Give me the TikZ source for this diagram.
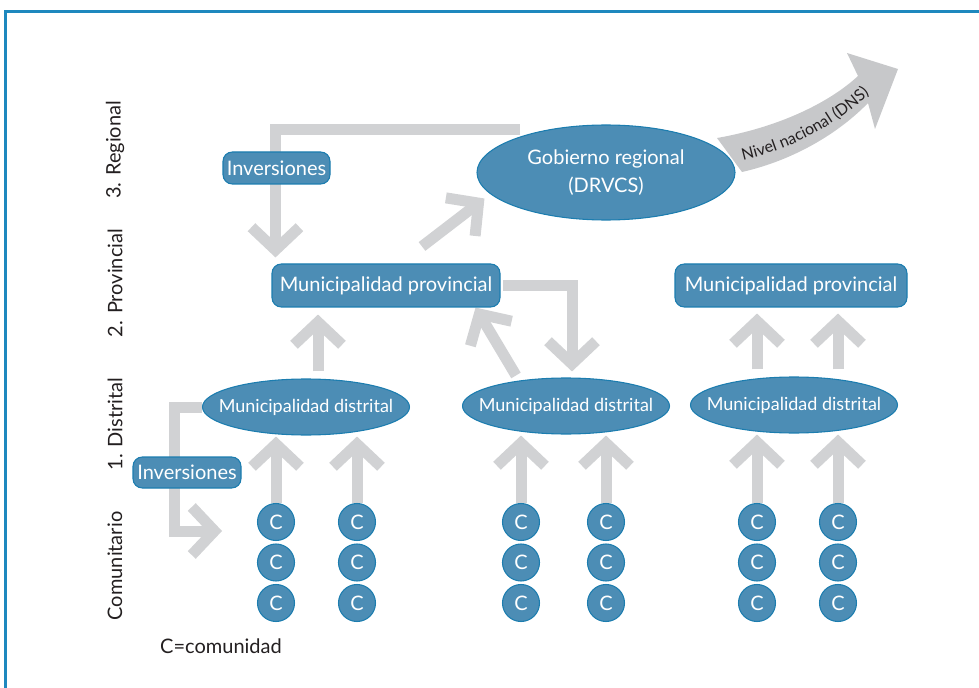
\documentclass[tikz,border=0pt]{standalone}
\usepackage{fontspec}
\setmainfont{Lato}
\usetikzlibrary{arrows.meta,shapes.geometric,calc,backgrounds,decorations.text}
\definecolor{nodeblue}{RGB}{76,141,181}
\definecolor{nodeline}{RGB}{28,125,175}
\definecolor{arrowgray}{RGB}{209,210,212}
\definecolor{nacgray}{RGB}{199,200,202}
\definecolor{framec}{RGB}{30,136,190}
\definecolor{textc}{RGB}{35,31,32}
\begin{document}
\begin{tikzpicture}[x=0.75pt,y=-0.75pt,
    box/.style={draw=nodeline, fill=nodeblue, text=white, rounded corners=7pt, line width=0.8pt,
      inner sep=0pt, font=\fontsize{15}{18}\selectfont},
    oval/.style={ellipse, draw=nodeline, fill=nodeblue, text=white, line width=0.8pt,
      inner sep=0pt, font=\fontsize{15}{18}\selectfont},
    dist/.style={oval, minimum width=155.25pt, minimum height=42pt, font=\fontsize{13.5}{16}\selectfont},
    com/.style={circle, draw=nodeline, fill=nodeblue, text=white, line width=0.8pt,
      minimum size=27.75pt, inner sep=0pt, font=\fontsize{15}{18}\selectfont},
    lvl/.style={rotate=90, text=textc, font=\fontsize{15}{18}\selectfont},
    fat/.style={draw=arrowgray, line width=8.25pt, line join=miter,
      -{Straight Barb[length=17pt,width=36pt]}}]
  \useasboundingbox (0,0) rectangle (979,688);
  \draw[framec, line width=2.25pt] (5.5,688) -- (5.5,11.5) -- (979,11.5);

  \node[lvl] (l3) at (115,150) {3. Regional};
  \node[lvl] (l2) at (115,283) {2. Provincial};
  \node[lvl] (l1) at (115,424) {1. Distrital};
  \node[lvl] (l0) at (115,566) {Comunitario};

  \node[oval, minimum width=193.5pt, minimum height=71.25pt, align=center] (g) at (606,172.5)
    {\makebox[0pt]{Gobierno regional}\\[3pt]\makebox[0pt]{(DRVCS)}};
  \node[box, minimum width=80.25pt, minimum height=24pt] (i1) at (276.5,168) {Inversiones};
  \node[box, minimum width=171pt, minimum height=32.25pt] (p1) at (386,285.5) {Municipalidad provincial};
  \node[box, minimum width=174pt, minimum height=32.25pt] (p2) at (791,285.5) {Municipalidad provincial};
  \node[dist] (d1) at (306,407) {\makebox[0pt]{Municipalidad distrital}};
  \node[dist] (d2) at (566,406) {\makebox[0pt]{Municipalidad distrital}};
  \node[dist] (d3) at (794,405) {\makebox[0pt]{Municipalidad distrital}};
  \node[box, minimum width=81pt, minimum height=23.25pt] (i2) at (187,472.5) {Inversiones};
  \foreach \x [count=\i] in {276,357,521,606,757,838}
    \foreach \y [count=\j] in {522,562.5,603}
      \node[com] (c\i-\j) at (\x,\y) {C};
  \node[text=textc, font=\fontsize{15}{18}\selectfont] (leg) at (221,646) {C=comunidad};

  \fill[nacgray] (717,138) .. controls (780,127) and (830,102) .. (858,76) -- (847,53) -- (898,69)
    -- (875,129) -- (868,103) .. controls (840,132) and (795,160) .. (742,172) -- cycle;
  \path[decorate, decoration={text along path, text color=textc, text align=center,
      text={|\fontsize{12}{14}\selectfont|Nivel nacional (DNS)}}]
    (740,161) .. controls (790,150) and (835,126) .. (872,92);

  \coordinate (t1) at (520,130);
  \coordinate (t2) at (222,531);
  \begin{scope}[on background layer]
    \draw[fat] (t1) -| ($(p1.north west)+(4,-6)$);
    \draw[fat] ($(p1.north)+(36,-17)$) -- ($(g.west)+(8,26)$);
    \draw[fat] ([xshift=2pt]p1.east) -| ($(d2.north)+(6,-6)$);
    \draw[fat] ($(d2.north)+(-50,-2)$) -- ($(p1.south east)+(-25,0)$);
    \draw[fat] (d1.west) -- ++(-27,0) |- (t2);
    \draw[fat] ($(d1.north)+(12,-7)$) -- ($(p1.south)+(-68,7)$);
    \foreach \i in {5,6}
      \draw[fat] (c\i-1 |- d3.north) ++(0,-7) -- ($(c\i-1 |- p2.south)+(0,6)$);
    \foreach \i/\d in {1/d1,2/d1,3/d2,4/d2,5/d3,6/d3}
      \draw[fat] (c\i-1.north) -- ($(c\i-1 |- \d.south)+(0,1)$);
  \end{scope}
\end{tikzpicture}
\end{document}
